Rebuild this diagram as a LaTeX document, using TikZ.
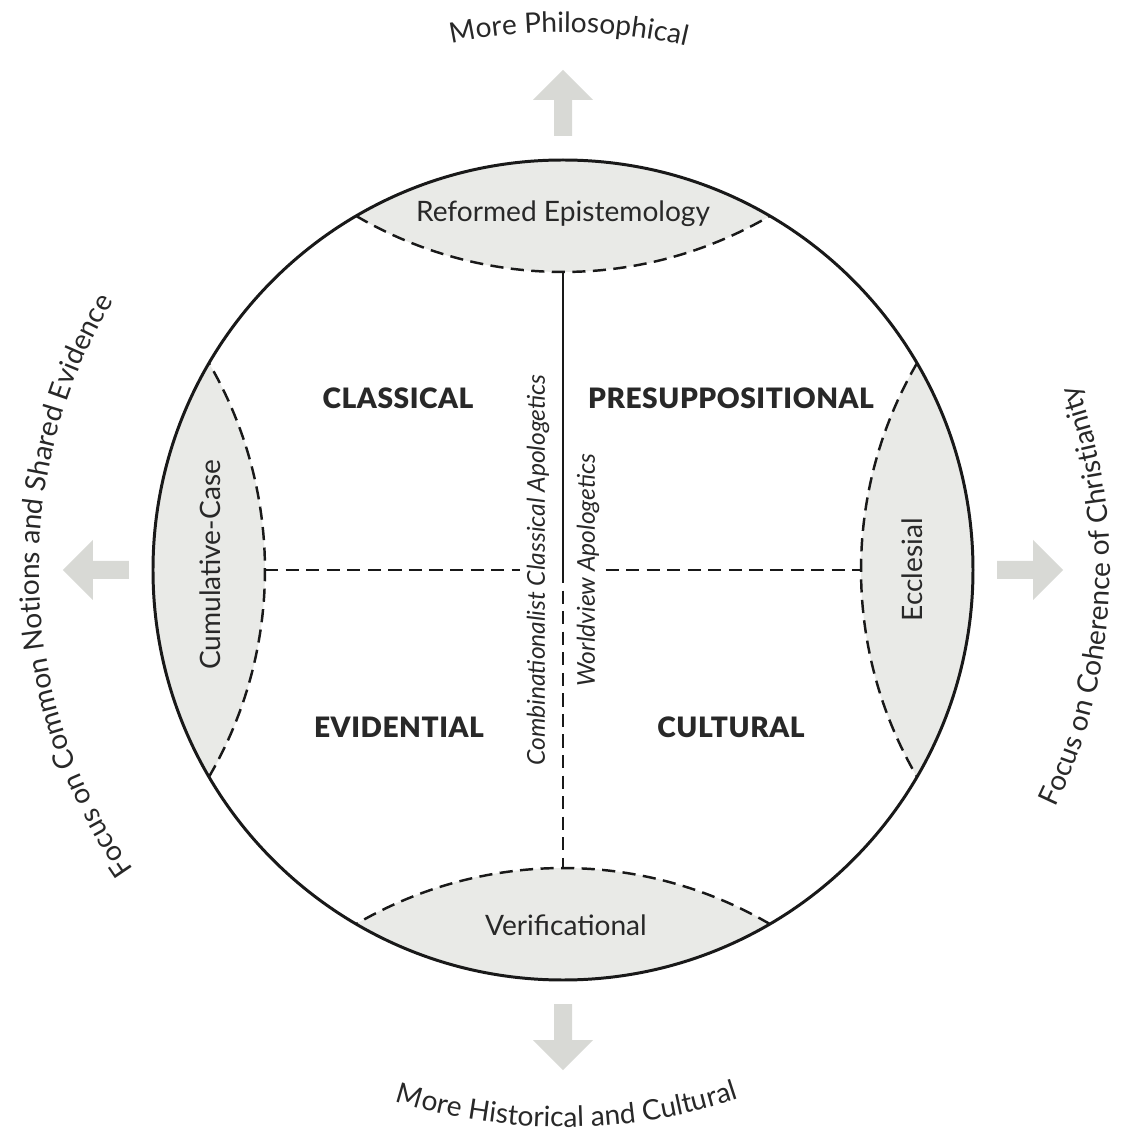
\documentclass[tikz,border=0pt]{standalone}
\usepackage{fontspec}
\setmainfont{Lato}
\IfFontExistsTF{Lato Black}
  {\newfontfamily\headfont[LetterSpace=2]{Lato Black}}
  {\newfontfamily\headfont[LetterSpace=4]{Lato}}
\usetikzlibrary{positioning,decorations.text}
\definecolor{ink}{RGB}{40,40,40}
\definecolor{lensgray}{RGB}{233,234,231}
\definecolor{pointergray}{RGB}{216,217,213}
\newcommand{\rimfont}{\fontsize{16}{19}\selectfont\color{ink}}
\tikzstyle{rim} = [line width=1.7pt, draw=black!90]
\tikzstyle{divider} = [line width=1.4pt, draw=black!90, dash pattern=on 7.5pt off 4.2pt]
\tikzstyle{pointer} = [fill=pointergray]

\begin{document}
\begin{tikzpicture}[x=0.02cm, y=0.02cm,
    school/.style={font=\headfont\fontsize{16}{19}\selectfont, text=ink},
    lens/.style={font=\fontsize{16}{19}\selectfont, text=ink},
    thread/.style={font=\itshape\fontsize{14}{17}\selectfont, text=ink}]

\useasboundingbox (-563,570) rectangle (564,-572);

% Grey caps of the four lenses
\begin{scope}
  \clip (0,0) circle (410);
  \fill[lensgray] (0,708) circle (410);
  \fill[lensgray] (0,-708) circle (410);
  \fill[lensgray] (-708,0) circle (410);
  \fill[lensgray] (708,0) circle (410);
\end{scope}

% Inner ends of the lenses
\coordinate (mid) at (0,0);
\coordinate (reTop) at (0,298);
\coordinate (veBot) at (0,-298);
\coordinate (cuIn) at (-298,0);
\coordinate (ecIn) at (298,0);

% Dashed lens borders
\draw[divider] (0,708) ++(239.7:410) arc[start angle=239.7, end angle=300.3, radius=410];
\draw[divider] (0,-708) ++(59.7:410) arc[start angle=59.7, end angle=120.3, radius=410];
\draw[divider] (-708,0) ++(-30.3:410) arc[start angle=-30.3, end angle=30.3, radius=410];
\draw[divider] (708,0) ++(149.7:410) arc[start angle=149.7, end angle=210.3, radius=410];

% Outer circle
\draw[rim] (mid) circle (410);

% Lens labels
\node[lens, anchor=base] (reformed) at (0,348) {Reformed Epistemology};
\node[lens, anchor=base] (verif) at (3,-365) {Verificational};
\node[lens, rotate=90] (cumul) at (-353,5) {Cumulative-Case};
\node[lens, rotate=90] (eccles) at (349,0) {Ecclesial};

% Quadrant labels
\node[school] (classical) at (-165,172) {CLASSICAL};
\node[school] (presupp) at (168,172) {PRESUPPOSITIONAL};
\node[school] (evidential) at (-164,-157) {EVIDENTIAL};
\node[school] (cultural) at (168,-157) {CULTURAL};

% Middle column
\node[thread, rotate=90] (comb) at (-25,0) {Combinationalist Classical Apologetics};
\node[thread, rotate=90] (world) at (25,0) {Worldview Apologetics};

% Dividers
\draw[rim, line width=1.4pt] (reTop) -- (mid);
\draw[divider] (mid) -- (veBot);
\draw[divider] (cuIn) -- (comb.north);
\draw[divider] (world.south) -- (ecIn);

% Direction arrows
\fill[pointer, rotate=90] (434,-9) -- (470,-9) -- (470,-30) -- (500,0) -- (470,30) -- (470,9) -- (434,9) -- cycle;
\fill[pointer, rotate=180] (434,-9) -- (470,-9) -- (470,-30) -- (500,0) -- (470,30) -- (470,9) -- (434,9) -- cycle;
\fill[pointer, rotate=270] (434,-9) -- (470,-9) -- (470,-30) -- (500,0) -- (470,30) -- (470,9) -- (434,9) -- cycle;
\fill[pointer] (434,-9) -- (470,-9) -- (470,-30) -- (500,0) -- (470,30) -- (470,9) -- (434,9) -- cycle;

% Text around the rim
\path[decorate, decoration={text along path, text align=center,
    text={|\rimfont|More Philosophical}}]
  (119.4:538) arc[start angle=119.4, end angle=59.4, radius=538];
\path[decorate, decoration={text along path, text align=center,
    text={|\rimfont|More Historical and Cultural}}]
  (240.4:557) arc[start angle=240.4, end angle=300.4, radius=557];
\path[decorate, decoration={text along path, text align=center,
    text={|\rimfont|Focus on Common Notions and Shared Evidence}}]
  (222:524) arc[start angle=222, end angle=142, radius=524];
\path[decorate, decoration={text along path, text align=center,
    text={|\rimfont|Focus on Coherence of Christianity}}]
  (-43:547) arc[start angle=-43, end angle=37, radius=547];
\end{tikzpicture}
\end{document}
